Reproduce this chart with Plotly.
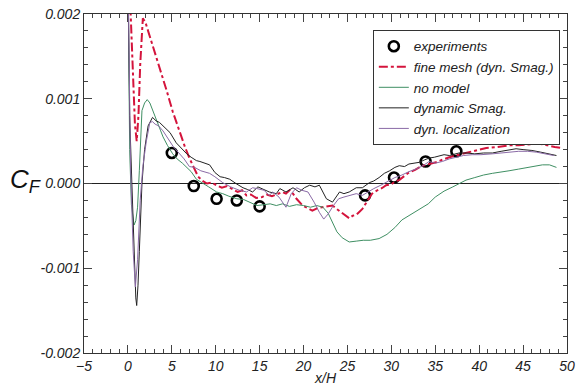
import plotly.graph_objects as go

# Values of C_F are given in units of 1e-3 (axis ticks labelled accordingly)
exp_x = [5.0, 7.5, 10.1, 12.4, 15.0, 27.0, 30.3, 33.9, 37.4]
exp_y = [0.36, -0.03, -0.18, -0.20, -0.27, -0.14, 0.07, 0.26, 0.38]

fine_x = [0.2, 0.4, 0.6, 0.8, 1.0, 1.2, 1.4, 1.6, 1.7, 2.0, 2.4, 2.8, 3.3, 3.8, 4.4, 5.1, 5.8,
          6.5, 7.0, 7.5, 8.0, 8.5, 9.0, 9.5, 10.1, 10.7, 11.3, 11.9, 12.5, 13.0, 13.5, 14.0,
          14.6, 15.3, 15.8, 16.4, 16.9, 17.6, 18.0, 18.4, 18.8, 19.2, 19.9, 20.5, 21.0, 21.6,
          22.2, 22.8, 23.3, 23.9, 24.4, 24.9, 25.2, 25.6, 26.0, 26.4, 26.7, 27.3, 27.8, 28.4,
          29.0, 29.4, 30.0, 30.5, 30.9, 31.5, 32.0, 32.7, 33.5, 34.3, 35.1, 35.8, 36.6, 37.7,
          38.8, 39.8, 40.8, 42.0, 43.4, 44.5, 45.5, 46.8, 47.8, 48.6, 49.4]
fine_y = [2.3, 1.7, 1.1, 0.7, 0.5, 0.8, 1.4, 1.9, 1.95, 1.90, 1.77, 1.62, 1.48, 1.30, 1.10, 0.85,
          0.63, 0.43, 0.30, 0.18, 0.08, 0.03, 0.0, 0.01, -0.02, -0.05, -0.03, -0.07, -0.10,
          -0.08, -0.14, -0.13, -0.17, -0.16, -0.13, -0.15, -0.13, -0.10, -0.12, -0.08, -0.12,
          -0.18, -0.26, -0.29, -0.32, -0.29, -0.28, -0.27, -0.26, -0.31, -0.35, -0.39, -0.41,
          -0.38, -0.37, -0.33, -0.30, -0.20, -0.12, -0.08, -0.05, -0.02, -0.01, 0.03, 0.04,
          0.09, 0.13, 0.16, 0.21, 0.23, 0.25, 0.28, 0.31, 0.34, 0.37, 0.40, 0.42, 0.43, 0.45,
          0.45, 0.46, 0.47, 0.45, 0.43, 0.42]

nomodel_x = [0.0, 0.1, 0.2, 0.4, 0.7, 0.9, 1.1, 1.3, 1.6, 1.9, 2.2, 2.5, 2.7, 3.0, 3.3, 3.7, 4.0,
             4.5, 5.1, 5.6, 6.2, 6.7, 7.2, 7.8, 8.5, 9.2, 10.1, 10.8, 11.5, 12.4, 13.2, 14.0,
             14.7, 15.5, 16.2, 16.9, 17.6, 18.4, 19.2, 20.0, 20.8, 21.5, 22.2, 22.8, 23.3, 23.8,
             24.4, 25.2, 26.0, 26.8, 27.6, 28.6, 29.5, 30.4, 31.2, 32.0, 32.6, 33.4, 34.2, 35.0,
             36.0, 37.0, 37.7, 38.5, 39.5, 40.5, 41.5, 42.5, 43.4, 44.5, 45.5, 46.5, 47.2, 48.0,
             48.8]
nomodel_y = [2.6, 1.4, 0.4, -0.25, -0.49, -0.44, -0.28, 0.15, 0.86, 0.95, 0.99, 0.95, 0.90, 0.82,
             0.74, 0.63, 0.55, 0.45, 0.35, 0.29, 0.24, 0.19, 0.14, 0.05, 0.01, -0.04, -0.10,
             -0.12, -0.15, -0.18, -0.19, -0.23, -0.26, -0.25, -0.24, -0.26, -0.24, -0.27, -0.25,
             -0.26, -0.28, -0.26, -0.28, -0.35, -0.47, -0.57, -0.64, -0.69, -0.68, -0.67, -0.67,
             -0.65, -0.60, -0.52, -0.43, -0.38, -0.34, -0.30, -0.24, -0.16, -0.09, -0.04, 0.0,
             0.04, 0.07, 0.10, 0.12, 0.14, 0.15, 0.17, 0.19, 0.21, 0.22, 0.22, 0.19]

dyn_x = [0.0, 0.1, 0.2, 0.45, 0.7, 0.9, 1.0, 1.15, 1.3, 1.6, 1.9, 2.3, 2.8, 3.2, 3.6, 4.2, 4.8,
         5.5, 6.1, 6.7, 7.2, 7.8, 8.2, 8.7, 9.3, 9.9, 10.5, 11.0, 11.6, 12.3, 13.1, 13.6, 14.2,
         14.8, 15.3, 16.1, 16.9, 17.3, 18.0, 18.8, 19.5, 20.1, 20.7, 21.3, 21.8, 22.2, 22.6,
         23.3, 24.1, 24.6, 25.2, 26.0, 26.7, 27.5, 28.0, 28.6, 29.2, 29.8, 30.4, 30.9, 31.5,
         32.0, 32.6, 33.2, 33.8, 34.3, 34.9, 35.5, 36.0, 36.6, 37.2, 37.7, 38.5, 39.5, 40.5,
         41.5, 42.5, 43.4, 44.2, 45.0, 46.0, 47.0, 48.0, 48.8]
dyn_y = [2.6, 1.5, 0.8, 0.0, -0.9, -1.35, -1.44, -1.2, -0.8, 0.0, 0.4, 0.68, 0.78, 0.74, 0.72,
         0.66, 0.60, 0.48, 0.41, 0.35, 0.31, 0.27, 0.26, 0.24, 0.22, 0.13, 0.08, 0.07, 0.05,
         0.00, -0.05, -0.07, -0.10, -0.04, -0.06, -0.10, -0.12, -0.06, -0.10, -0.05, -0.10,
         -0.05, -0.02, -0.04, -0.02, -0.10, -0.18, -0.22, -0.10, -0.12, -0.10, -0.05, -0.05,
         0.01, 0.03, 0.07, 0.12, 0.15, 0.19, 0.21, 0.20, 0.23, 0.24, 0.25, 0.28, 0.30, 0.31,
         0.33, 0.34, 0.33, 0.35, 0.36, 0.36, 0.35, 0.36, 0.36, 0.38, 0.40, 0.41, 0.40, 0.39,
         0.37, 0.35, 0.33]

loc_x = [0.0, 0.1, 0.3, 0.6, 0.85, 1.1, 1.4, 1.7, 2.1, 2.5, 2.8, 3.1, 3.5, 4.0, 4.6, 5.2, 5.8,
         6.4, 7.0, 7.6, 8.3, 9.3, 9.9, 10.8, 11.7, 12.7, 13.5, 14.2, 14.7, 15.5, 16.1, 16.5,
         17.2, 18.0, 18.6, 19.2, 19.8, 20.5, 21.2, 21.8, 22.3, 22.8, 23.4, 24.0, 24.6, 25.3,
         26.0, 26.7, 27.3, 28.0, 28.8, 29.6, 30.4, 31.2, 32.0, 32.8, 33.6, 34.3, 35.0, 35.8,
         36.6, 37.4, 38.2, 39.2, 40.2, 41.5, 42.5, 43.5, 44.5, 45.5, 46.5, 47.5, 48.5]
loc_y = [2.6, 1.6, 0.2, -0.8, -1.22, -0.9, -0.2, 0.2, 0.5, 0.72, 0.73, 0.70, 0.68, 0.62, 0.52,
         0.43, 0.36, 0.29, 0.20, 0.19, 0.15, 0.12, 0.08, 0.01, -0.04, -0.08, -0.10, -0.05,
         -0.06, -0.08, -0.14, -0.10, -0.16, -0.28, -0.12, -0.05, -0.08, -0.10, -0.22, -0.34,
         -0.42, -0.36, -0.26, -0.18, -0.16, -0.14, -0.12, -0.14, -0.10, -0.06, -0.02, 0.03,
         0.07, 0.10, 0.14, 0.17, 0.21, 0.26, 0.24, 0.26, 0.29, 0.31, 0.33, 0.34, 0.34, 0.35,
         0.36, 0.37, 0.38, 0.38, 0.37, 0.35, 0.33]

y_tickvals = [-2, -1, 0, 1, 2]
y_ticktext = ["-0.002", "-0.001", "0.000", "0.001", "0.002"]
x_tickvals = [-5, 0, 5, 10, 15, 20, 25, 30, 35, 40, 45, 50]

FONT = "Liberation Sans"
fig = go.Figure()
fig.add_trace(go.Scatter(x=exp_x, y=exp_y, mode="markers", name="experiments",
                         marker=dict(symbol="circle-open", size=10, color="black",
                                     line=dict(width=2.6, color="black"))))
fig.add_trace(go.Scatter(x=fine_x, y=fine_y, mode="lines", name="fine mesh (dyn. Smag.)",
                         line=dict(color="#d4143c", width=2, dash="dashdot")))
fig.add_trace(go.Scatter(x=nomodel_x, y=nomodel_y, mode="lines", name="no model",
                         line=dict(color="#3f8f63", width=1)))
fig.add_trace(go.Scatter(x=dyn_x, y=dyn_y, mode="lines", name="dynamic Smag.",
                         line=dict(color="#222222", width=1)))
fig.add_trace(go.Scatter(x=loc_x, y=loc_y, mode="lines", name="dyn. localization",
                         line=dict(color="#8a6aa6", width=1)))

fig.update_layout(
    template="none",
    width=580, height=388,
    margin=dict(l=84, r=13, t=14, b=35, pad=0),
    paper_bgcolor="white", plot_bgcolor="white",
    font=dict(family=FONT, size=13, color="#222", style="italic"),
    legend=dict(x=0.598, y=0.953, xanchor="left", yanchor="top",
                bordercolor="#333", borderwidth=1, bgcolor="white",
                font=dict(family=FONT, size=13.5, style="italic", color="#222"),
                tracegroupgap=0, itemwidth=30),
    showlegend=True,
)
fig.update_xaxes(range=[-5, 50], tickvals=x_tickvals, ticks="inside", ticklen=8,
                 tickcolor="#444", showline=True, linecolor="#333", linewidth=1,
                 mirror="allticks", showgrid=False, zeroline=False, automargin=False,
                 minor=dict(dtick=1, ticks="inside", ticklen=4, tickcolor="#444"),
                 tickfont=dict(family=FONT, size=14, style="italic", color="#222"),
                 title=dict(text="x/H", standoff=0,
                            font=dict(family=FONT, size=14, style="italic", color="#222")))
fig.update_yaxes(range=[-2, 2], tickvals=y_tickvals, ticktext=y_ticktext, ticks="inside",
                 ticklen=8, tickcolor="#444", showline=True, linecolor="#333", linewidth=1,
                 mirror="allticks", showgrid=False, zeroline=True, zerolinecolor="#222",
                 zerolinewidth=1, automargin=False,
                 minor=dict(dtick=0.2, ticks="inside", ticklen=4, tickcolor="#444"),
                 tickfont=dict(family=FONT, size=14, style="italic", color="#222"))
fig.add_annotation(text="C<sub>F</sub>", xref="paper", yref="paper", x=-0.158, y=0.51,
                   xanchor="left", yanchor="middle", showarrow=False,
                   font=dict(family=FONT, size=26, style="italic", color="#111"))
fig.write_html("out.html")
